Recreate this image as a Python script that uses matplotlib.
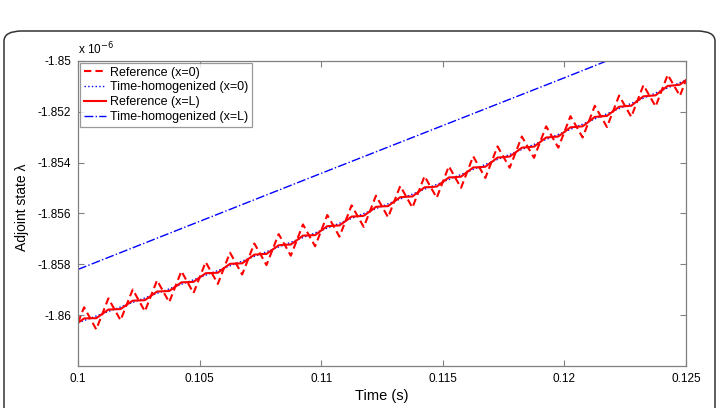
import numpy as np
import matplotlib
matplotlib.use('Agg')
import matplotlib.pyplot as plt
from matplotlib.patches import FancyBboxPatch
from matplotlib.ticker import FuncFormatter

plt.rcParams['font.family'] = ['Liberation Sans', 'DejaVu Sans']

# Time samples (s), every 0.25 ms
time = np.linspace(0.1, 0.125, 101)

# Adjoint state values, in units of 1e-6
ref_x0 = [
    -1.86030, -1.85969, -1.86012, -1.86056, -1.85995, -1.85934, -1.85977, -1.86020,
    -1.85959, -1.85899, -1.85942, -1.85985, -1.85924, -1.85863, -1.85906, -1.85949,
    -1.85888, -1.85827, -1.85870, -1.85913, -1.85852, -1.85791, -1.85834, -1.85877,
    -1.85815, -1.85754, -1.85797, -1.85840, -1.85779, -1.85718, -1.85760, -1.85803,
    -1.85742, -1.85681, -1.85723, -1.85766, -1.85705, -1.85643, -1.85686, -1.85729,
    -1.85667, -1.85606, -1.85648, -1.85691, -1.85630, -1.85568, -1.85611, -1.85653,
    -1.85592, -1.85530, -1.85572, -1.85615, -1.85553, -1.85492, -1.85534, -1.85577,
    -1.85515, -1.85453, -1.85496, -1.85538, -1.85476, -1.85414, -1.85457, -1.85499,
    -1.85437, -1.85375, -1.85418, -1.85460, -1.85398, -1.85336, -1.85378, -1.85420,
    -1.85359, -1.85297, -1.85339, -1.85381, -1.85319, -1.85257, -1.85299, -1.85341,
    -1.85279, -1.85217, -1.85259, -1.85301, -1.85239, -1.85176, -1.85218, -1.85260,
    -1.85198, -1.85136, -1.85178, -1.85220, -1.85157, -1.85095, -1.85137, -1.85179,
    -1.85116, -1.85054, -1.85096, -1.85137, -1.85075,
]
ref_xL = [
    -1.86030, -1.86013, -1.86012, -1.86012, -1.85995, -1.85978, -1.85977, -1.85976,
    -1.85959, -1.85943, -1.85942, -1.85941, -1.85924, -1.85907, -1.85906, -1.85905,
    -1.85888, -1.85871, -1.85870, -1.85869, -1.85852, -1.85835, -1.85834, -1.85833,
    -1.85815, -1.85798, -1.85797, -1.85796, -1.85779, -1.85762, -1.85760, -1.85759,
    -1.85742, -1.85725, -1.85723, -1.85722, -1.85705, -1.85687, -1.85686, -1.85685,
    -1.85667, -1.85650, -1.85648, -1.85647, -1.85630, -1.85612, -1.85611, -1.85609,
    -1.85592, -1.85574, -1.85572, -1.85571, -1.85553, -1.85536, -1.85534, -1.85533,
    -1.85515, -1.85497, -1.85496, -1.85494, -1.85476, -1.85458, -1.85457, -1.85455,
    -1.85437, -1.85419, -1.85418, -1.85416, -1.85398, -1.85380, -1.85378, -1.85376,
    -1.85359, -1.85341, -1.85339, -1.85337, -1.85319, -1.85301, -1.85299, -1.85297,
    -1.85279, -1.85261, -1.85259, -1.85257, -1.85239, -1.85220, -1.85218, -1.85216,
    -1.85198, -1.85180, -1.85178, -1.85176, -1.85157, -1.85139, -1.85137, -1.85135,
    -1.85116, -1.85098, -1.85096, -1.85093, -1.85075,
]

# Time-homogenized curves (coarse samples)
hom_time = [0.100, 0.105, 0.110, 0.115, 0.120, 0.125]
hom_x0 = [-1.86030, -1.85852, -1.85667, -1.85476, -1.85279, -1.85075]
hom_xL = [-1.85820, -1.85631, -1.85442, -1.85254, -1.85066, -1.84876]

fig = plt.figure(figsize=(7.19, 4.08), dpi=100)

# rounded frame around the figure
frame = FancyBboxPatch((4 / 719, -20 / 408), 711 / 719, 397 / 408,
                       boxstyle='round,pad=0,rounding_size=0.025',
                       transform=fig.transFigure, fill=False,
                       edgecolor='#333333', linewidth=1.1, clip_on=False)
fig.patches.append(frame)

ax = fig.add_axes([78 / 719, 42 / 408, 608 / 719, 305 / 408])

ax.plot(hom_time, hom_x0, ':', color='#0000ff', lw=1.0, label='Time-homogenized (x=0)')
ax.plot(time, ref_x0, '--', color='#ff0000', lw=1.5, dashes=(3.5, 2),
        label='Reference (x=0)')
ax.plot(time, ref_xL, '-', color='#ff0000', lw=1.5, label='Reference (x=L)')
ax.plot(hom_time, hom_xL, '-.', color='#0000ff', lw=1.0, label='Time-homogenized (x=L)')

ax.set_xlim(0.1, 0.125)
ax.set_ylim(-1.862, -1.85)
ax.set_xticks([0.1, 0.105, 0.11, 0.115, 0.12, 0.125])
ax.set_yticks([-1.86, -1.858, -1.856, -1.854, -1.852, -1.85])
fmt = FuncFormatter(lambda v, _: f'{round(v, 4):g}')
ax.xaxis.set_major_formatter(fmt)
ax.yaxis.set_major_formatter(fmt)
ax.tick_params(direction='in', top=True, right=True, length=4, width=0.8,
               color='#808080', labelsize=8.5, pad=5)
for s in ax.spines.values():
    s.set_color('#808080')
    s.set_linewidth(0.9)

ax.set_xlabel('Time (s)', fontsize=10.5, labelpad=3)
ax.set_ylabel('Adjoint state λ', fontsize=10)
ax.yaxis.set_label_coords(-0.08, 0.52)
ax.text(0.0, 1.012, 'x 10$^{-6}$', transform=ax.transAxes, fontsize=8.5,
        ha='left', va='bottom')

handles, labels = ax.get_legend_handles_labels()
order = [1, 0, 2, 3]
leg = ax.legend([handles[i] for i in order], [labels[i] for i in order],
                loc='upper left', fontsize=9, frameon=True, fancybox=False,
                handlelength=1.8, handletextpad=0.3, labelspacing=0.22,
                borderpad=0.3, borderaxespad=0.15)
leg.get_frame().set_edgecolor('#808080')
leg.get_frame().set_linewidth(0.9)

fig.savefig('out.png', dpi=100)
